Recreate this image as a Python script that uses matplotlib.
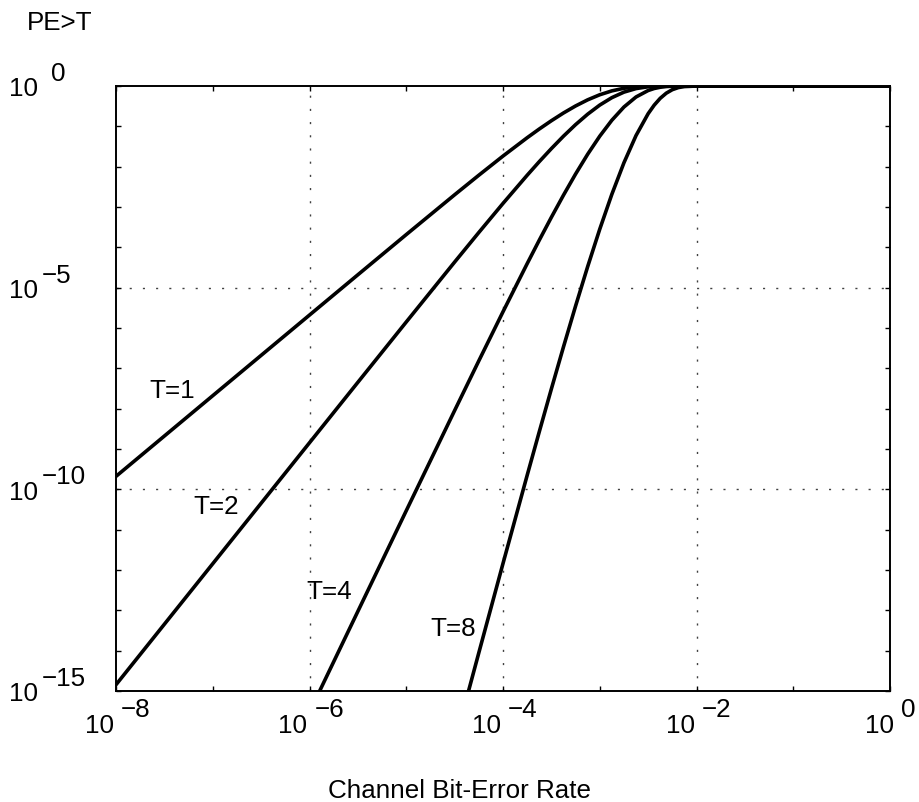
import numpy as np
import matplotlib
matplotlib.use("Agg")
import matplotlib.pyplot as plt
from matplotlib.transforms import offset_copy

plt.rcParams['font.family'] = ['Liberation Sans', 'DejaVu Sans']

# channel bit-error rate, as log10 values
ber_exp = [-8, -7, -6, -5.5, -5, -4.5, -4.25, -4, -3.75, -3.625, -3.5, -3.375,
           -3.25, -3.125, -3, -2.875, -2.75, -2.625, -2.5, -2.4375, -2.375,
           -2.3125, -2.25, -2.1875, -2.125, -2, -1, 0]
# log10 of PE>T for each T
pe_t1 = [-9.678, -7.678, -5.679, -4.680, -3.684, -2.697, -2.212, -1.737,
         -1.282, -1.066, -0.861, -0.669, -0.495, -0.343, -0.217, -0.121,
         -0.056, -0.020, -0.005, -0.002, -0.001, 0, 0, 0, 0, 0, 0, 0]
pe_t2 = [-14.844, -11.844, -8.845, -7.346, -5.851, -4.365, -3.632, -2.911,
         -2.212, -1.875, -1.552, -1.244, -0.958, -0.699, -0.473, -0.289,
         -0.152, -0.064, -0.019, -0.009, -0.004, -0.001, -0.0003, 0, 0, 0,
         0, 0]
pe_t4 = [-25.52, -20.52, -15.524, -13.025, -10.530, -8.046, -6.814, -5.597,
         -4.404, -3.822, -3.255, -2.707, -2.183, -1.692, -1.244, -0.849,
         -0.521, -0.272, -0.112, -0.062, -0.031, -0.013, -0.005, -0.001,
         -0.0003, 0, 0, 0]
pe_t8 = [-47.76, -38.76, -29.76, -25.26, -20.758, -16.283, -14.053, -11.838,
         -9.650, -8.572, -7.510, -6.469, -5.456, -4.479, -3.550, -2.685,
         -1.903, -1.228, -0.687, -0.475, -0.305, -0.178, -0.091, -0.039,
         -0.014, -0.001, 0, 0]
curve_labels = ['T=1', 'T=2', 'T=4', 'T=8']
x_tick_exp = [-8, -6, -4, -2, 0]
y_tick_exp = [0, -5, -10, -15]

fig = plt.figure(figsize=(9.19, 8.03), dpi=100)
ax = fig.add_axes([116/919, 111/803, 774/919, 605/803])

x = 10.0 ** np.array(ber_exp)
for vals in [pe_t1, pe_t2, pe_t4, pe_t8]:
    ax.plot(x, 10.0 ** np.array(vals), color='black', lw=2.6, zorder=3)

ax.set_xscale('log')
ax.set_yscale('log')
ax.set_xlim(1e-8, 1)
ax.set_ylim(1e-15, 1)
ax.set_xticks(10.0 ** np.arange(-8, 1))
ax.set_yticks(10.0 ** np.arange(-15, 1))
ax.minorticks_off()
ax.set_xticklabels([])
ax.set_yticklabels([])
ax.tick_params(direction='in', length=3.5, width=1.0, top=True, right=True)
for s in ax.spines.values():
    s.set_linewidth(1.4)

# dotted grid at labelled decades
for e in x_tick_exp[1:-1]:
    ax.axvline(10.0 ** e, color='0.25', lw=1.0, ls=(0, (1.5, 8.0)), zorder=1)
for e in y_tick_exp[1:-1]:
    ax.axhline(10.0 ** e, color='0.25', lw=1.0, ls=(0, (1.5, 8.0)), zorder=1)

fs = 18.7
def put(xv, yv, s, dx, dy, ha):
    tr = offset_copy(ax.transData, fig=fig, x=dx, y=dy, units='dots')
    ax.text(xv, yv, s, transform=tr, ha=ha, va='baseline', fontsize=fs,
            clip_on=False)

# MATLAB style tick labels: "10" with exponent raised beside it
for e in x_tick_exp:
    xv = 10.0 ** e
    if e == 0:
        put(xv, 1e-15, '10', 4, -41, 'right')
        put(xv, 1e-15, '0', 11, -25, 'left')
    else:
        put(xv, 1e-15, '10', -2, -41, 'right')
        put(xv, 1e-15, '\u2212%d' % -e, 5, -25, 'left')
for e in y_tick_exp:
    yv = 10.0 ** e
    put(1e-8, yv, '10', -78, -9.5, 'right')
    if e == 0:
        put(1e-8, yv, '0', -65, 6, 'left')
    else:
        put(1e-8, yv, '\u2212%d' % -e, -74, 6, 'left')

# curve labels
label_pos = [(10 ** -7.66, 10 ** -7.70), (10 ** -7.20, 10 ** -10.59),
             (10 ** -6.03, 10 ** -12.70), (10 ** -4.75, 10 ** -13.61)]
for lab, (lx, ly) in zip(curve_labels, label_pos):
    ax.text(lx, ly, lab, ha='left', va='baseline', fontsize=fs)

fig.text(27/919, 1 - 30/803, 'PE>T', ha='left', va='baseline', fontsize=fs)
fig.text(328/919, 5/803, 'Channel Bit-Error Rate', ha='left', va='baseline',
         fontsize=fs)

fig.savefig('out.png', dpi=100)
